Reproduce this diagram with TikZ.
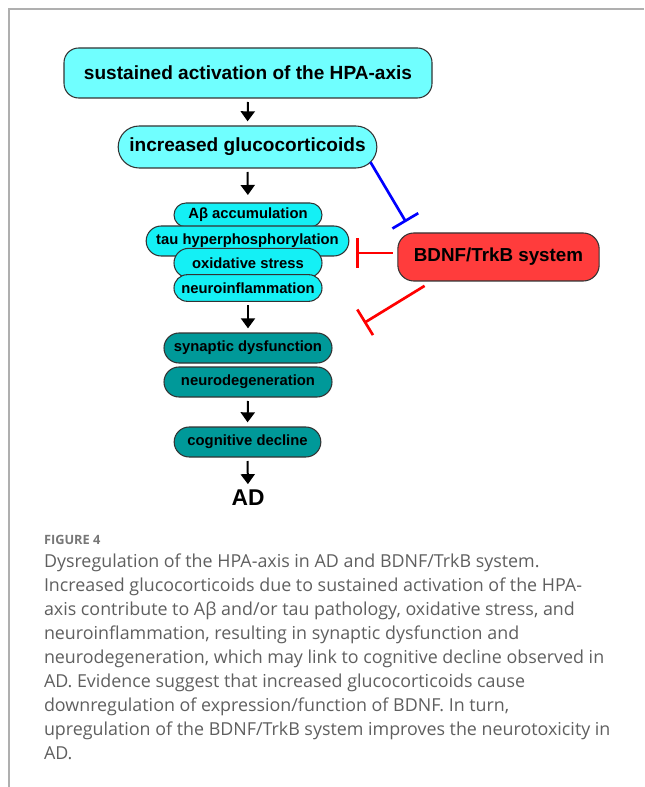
\documentclass[tikz,border=0pt]{standalone}
\usepackage{fontspec}
\setmainfont{Liberation Sans}
\newfontfamily\capfont{Open Sans}
\usetikzlibrary{arrows.meta,shapes.misc}
\definecolor{hpacyan}{RGB}{112,255,255}
\definecolor{stackcyan}{RGB}{20,240,245}
\definecolor{teal}{RGB}{0,153,153}
\definecolor{bdnfred}{RGB}{255,60,60}
\definecolor{framegray}{RGB}{175,175,175}
\definecolor{capgray}{RGB}{95,95,95}

\begin{document}
\begin{tikzpicture}
[
    x=0.75pt, y=-0.75pt,
    every node/.style={inner sep=0pt, outer sep=0pt},
    hpabox/.style={draw=black!80, line width=0.8pt, fill=hpacyan, rounded corners=11pt},
    pill/.style={rounded rectangle, draw=black!80, line width=0.8pt},
    bigtext/.style={font=\bfseries\fontsize{14.3}{16}\selectfont},
    smalltext/.style={font=\bfseries\fontsize{11.1}{13}\selectfont},
    stackpill/.style={pill, fill=stackcyan, smalltext, minimum width=111pt},
    tealpill/.style={pill, fill=teal, smalltext, minimum height=22.5pt},
    down/.style={line width=1.5pt, -{Triangle[width=10.5pt,length=7.5pt]}, shorten <=3pt, shorten >=3.5pt},
    inhib/.style={line width=2pt, -{Bar[width=22.5pt,line width=2pt]}},
    caption/.style={anchor=base west, text=capgray, font=\capfont\fontsize{13.4}{15}\selectfont},
]
\useasboundingbox (0,0) rectangle (644,787);
\draw[framegray, line width=1.1pt] (644,9) -- (9,9) -- (9,787);

\node[hpabox, bigtext, minimum width=276pt, minimum height=37.5pt] (hpa) at (248,73)
    {sustained activation of the HPA-axis};
\node[pill, fill=hpacyan, bigtext, minimum width=194pt, minimum height=31.5pt] (gluco) at (247.5,147)
    {increased glucocorticoids};

\node[stackpill, minimum height=18pt] (abeta) at (248,215) {Aβ accumulation};
\node[stackpill, minimum width=152pt, minimum height=22.5pt] (tau) at (247.5,241) {tau hyperphosphorylation};
\node[stackpill, minimum height=22pt] (oxid) at (248,263) {oxidative stress};
\node[stackpill, minimum height=20pt] (neuroinf) at (248,288) {neuroinflammation};

\node[tealpill, minimum width=126pt] (synapse) at (248,348) {synaptic dysfunction};
\node[tealpill, minimum width=126pt] (neurodeg) at (248,382) {neurodegeneration};
\node[tealpill, minimum width=110pt] (cognit) at (247.5,442) {cognitive decline};
\node[font=\bfseries\fontsize{17.1}{19}\selectfont] (ad) at (248,498) {AD};

\node[hpabox, fill=bdnfred, rounded corners=12pt, font=\bfseries\fontsize{14.1}{16}\selectfont,
    minimum width=151pt, minimum height=36pt] (bdnf) at (498.5,257) {BDNF/TrkB system};

\draw[down] (hpa.south) -- (gluco.north);
\draw[down, shorten >=6pt] (gluco.south) -- (abeta.north);
\draw[down] (neuroinf.south) -- (synapse.north);
\draw[down] (neurodeg.south) -- (cognit.north);
\draw[down, shorten >=4.5pt] (cognit.south) -- (ad.north);

\coordinate (bdnfbar) at (406,222);
\coordinate (stackbar) at (356,253);
\coordinate (synbar) at (364,323);
\draw[inhib, blue] (gluco.-7) -- (bdnfbar);
\draw[inhib, red, shorten <=3.75pt] (bdnf.west |- stackbar) -- (stackbar);
\draw[inhib, red, shorten <=7pt] (bdnf.200) -- (synbar);

\node[caption, font=\capfont\bfseries\fontsize{9.6}{12}\selectfont, text=capgray!85] (fig) at (44,544) {FIGURE 4};
\node[caption] (cap1) at (44,567) {Dysregulation of the HPA-axis in AD and BDNF/TrkB system.};
\node[caption] (cap2) at (44,591) {Increased glucocorticoids due to sustained activation of the HPA-};
\node[caption] (cap3) at (44,615) {axis contribute to Aβ and/or tau pathology, oxidative stress, and};
\node[caption] (cap4) at (44,639) {neuroinflammation, resulting in synaptic dysfunction and};
\node[caption] (cap5) at (44,663) {neurodegeneration, which may link to cognitive decline observed in};
\node[caption] (cap6) at (44,687) {AD. Evidence suggest that increased glucocorticoids cause};
\node[caption] (cap7) at (44,711) {downregulation of expression/function of BDNF. In turn,};
\node[caption] (cap8) at (44,735) {upregulation of the BDNF/TrkB system improves the neurotoxicity in};
\node[caption] (cap9) at (44,759) {AD.};
\end{tikzpicture}
\end{document}
